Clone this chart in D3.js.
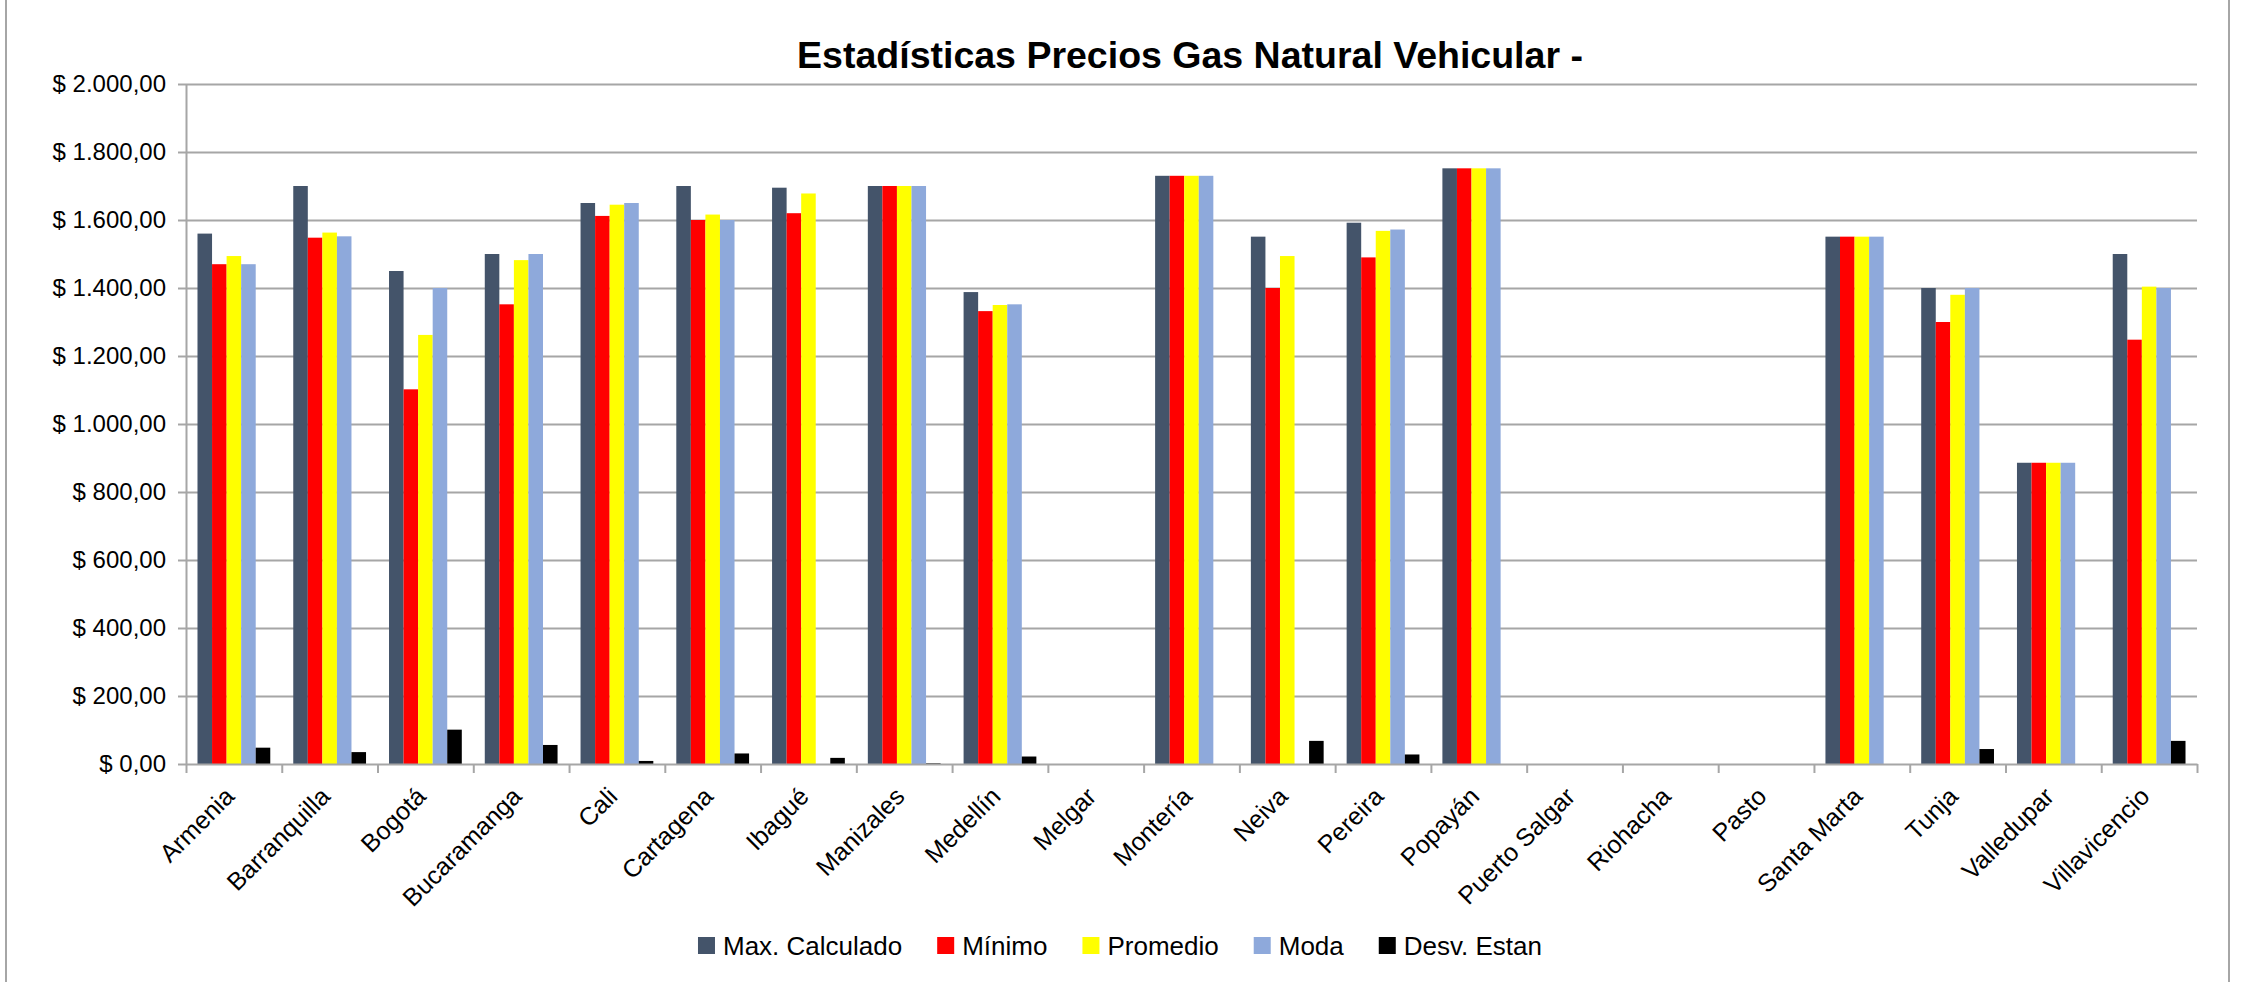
<!DOCTYPE html>
<html>
<head>
<meta charset="utf-8">
<script src="https://cdn.jsdelivr.net/npm/d3@7"></script>
<style>
  html, body { margin: 0; padding: 0; background: #fff; }
  svg text { font-family: "Liberation Sans", Arial, sans-serif; fill: #000; }
</style>
</head>
<body>
<svg id="chart" width="2266" height="982"></svg>
<script>
const cities = ["Armenia", "Barranquilla", "Bogotá", "Bucaramanga", "Cali", "Cartagena", "Ibagué",
  "Manizales", "Medellín", "Melgar", "Montería", "Neiva", "Pereira", "Popayán", "Puerto Salgar",
  "Riohacha", "Pasto", "Santa Marta", "Tunja", "Valledupar", "Villavicencio"];

const maxCalculado = [1560, 1700, 1450, 1500, 1650, 1700, 1695, 1700, 1388, 0, 1730, 1551, 1592, 1752, 0, 0, 0, 1551, 1400, 886, 1500];
const minimo       = [1470, 1548, 1102, 1352, 1612, 1600, 1620, 1700, 1332, 0, 1730, 1400, 1490, 1752, 0, 0, 0, 1551, 1300, 886, 1248];
const promedio     = [1494, 1563, 1262, 1482, 1645, 1616, 1678, 1700, 1350, 0, 1730, 1494, 1568, 1752, 0, 0, 0, 1551, 1380, 886, 1404];
const moda         = [1470, 1552, 1400, 1500, 1650, 1600, null, 1700, 1352, 0, 1730, null, 1572, 1752, 0, 0, 0, 1551, 1400, 886, 1400];
const desvEstan    = [48, 35, 101, 56, 9, 31, 18, 2, 22, 0, 0, 68, 28, 0, 0, 0, 0, 0, 44, 0, 68];

const seriesNames = ["Max. Calculado", "Mínimo", "Promedio", "Moda", "Desv. Estan"];
const seriesValues = [maxCalculado, minimo, promedio, moda, desvEstan];
const seriesColors = ["#44546A", "#FF0000", "#FFFF00", "#8EA9DB", "#000000"];

const yTicks = [0, 200, 400, 600, 800, 1000, 1200, 1400, 1600, 1800, 2000];
const title = "Estadísticas Precios Gas Natural Vehicular -";

const svg = d3.select("#chart");
const plot = { left: 186, right: 2197, top: 84, bottom: 764 };

// outer chart border
svg.append("rect")
  .attr("x", 6).attr("y", -4)
  .attr("width", 2223).attr("height", 992)
  .attr("fill", "#fff")
  .attr("stroke", "#a6a6a6").attr("stroke-width", 2);

const rows = cities.map((c, i) => ({ city: c, vals: seriesValues.map(s => s[i]) }));

const x0 = d3.scaleBand().domain(cities).range([plot.left, plot.right]).padding(0);
const bw = x0.bandwidth();
const x1 = d3.scaleBand().domain(seriesNames).range([bw * 0.12, bw * 0.88]).padding(0);
const y = d3.scaleLinear().domain([0, 2000]).range([plot.bottom, plot.top]);

const locale = d3.formatLocale({ decimal: ",", thousands: ".", grouping: [3], currency: ["$ ", ""] });
const fmt = locale.format("$,.2f");

// gridlines
svg.append("g").attr("class", "grid")
  .attr("transform", "translate(" + plot.left + ",0)")
  .call(d3.axisLeft(y).tickValues(yTicks.slice(1)).tickSize(-(plot.right - plot.left)).tickFormat(""))
  .call(g => g.select(".domain").remove())
  .call(g => g.selectAll("line").attr("stroke", "#a6a6a6").attr("stroke-width", 2));

// y axis
svg.append("g").attr("class", "yAxis")
  .attr("transform", "translate(" + plot.left + ",0)")
  .call(d3.axisLeft(y).tickValues(yTicks).tickSize(8).tickSizeOuter(0).tickPadding(12).tickFormat(fmt))
  .call(g => g.select(".domain").attr("stroke", "#a6a6a6").attr("stroke-width", 2))
  .call(g => g.selectAll("line").attr("stroke", "#a6a6a6").attr("stroke-width", 2))
  .call(g => g.selectAll("text").attr("font-size", 24)
    .style("font-family", "'Liberation Sans', Arial, sans-serif"));

// bars
const groups = svg.append("g").attr("class", "bars")
  .selectAll("g")
  .data(rows)
  .enter()
  .append("g")
  .attr("transform", d => "translate(" + x0(d.city) + ",0)");

groups.selectAll("rect")
  .data(d => d.vals.map((v, k) => ({ name: seriesNames[k], value: v, color: seriesColors[k] }))
    .filter(e => e.value !== null && e.value > 0))
  .enter()
  .append("rect")
  .attr("x", d => x1(d.name))
  .attr("y", d => y(d.value))
  .attr("width", x1.bandwidth())
  .attr("height", d => y(0) - y(d.value))
  .attr("fill", d => d.color);

// x axis (ticks between categories)
const xi = d3.scaleLinear().domain([0, cities.length]).range([plot.left, plot.right]);
svg.append("g").attr("class", "xAxis")
  .attr("transform", "translate(0," + plot.bottom + ")")
  .call(d3.axisBottom(xi).tickValues(d3.range(cities.length + 1)).tickSize(9).tickSizeOuter(0).tickFormat(""))
  .call(g => g.select(".domain").attr("stroke", "#a6a6a6").attr("stroke-width", 2))
  .call(g => g.selectAll("line").attr("stroke", "#a6a6a6").attr("stroke-width", 2));

svg.append("g").attr("class", "xLabels")
  .selectAll("text")
  .data(cities)
  .enter()
  .append("text")
  .attr("text-anchor", "end")
  .attr("font-size", 25)
  .attr("transform", d => "translate(" + (x0(d) + bw / 2 + 2) + "," + (plot.bottom + 34) + ") rotate(-45)")
  .text(d => d);

// title
svg.append("text")
  .attr("x", 1190).attr("y", 68)
  .attr("text-anchor", "middle")
  .attr("font-size", 37.5)
  .attr("font-weight", "bold")
  .text(title);

// legend
const legend = svg.append("g").attr("class", "legend");
const items = legend.selectAll("g")
  .data(seriesNames)
  .enter()
  .append("g");
items.append("rect")
  .attr("y", 937).attr("width", 17).attr("height", 17)
  .attr("fill", (d, i) => seriesColors[i]);
items.append("text")
  .attr("x", 25).attr("y", 955)
  .attr("font-size", 26)
  .text(d => d);
let cursor = 0;
items.each(function () {
  const w = d3.select(this).select("text").node().getComputedTextLength();
  d3.select(this).attr("data-x", cursor);
  cursor += 25 + w + 35;
});
const total = cursor - 35;
const start = 1120 - total / 2;
items.attr("transform", function () {
  return "translate(" + (start + +d3.select(this).attr("data-x")) + ",0)";
});
</script>
</body>
</html>
